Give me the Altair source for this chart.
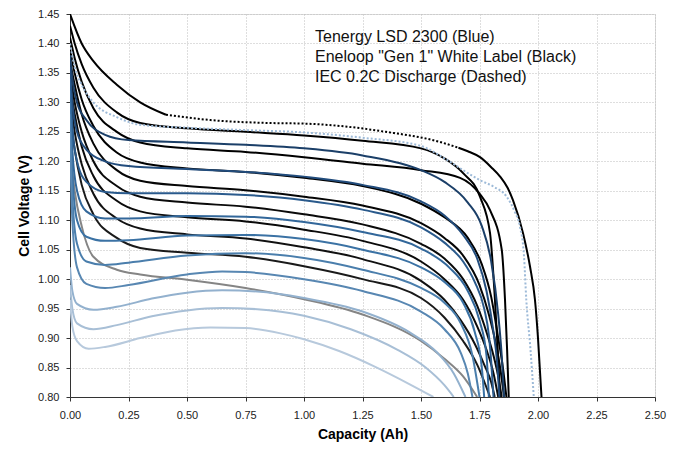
import altair as alt
import pandas as pd

# ---------------- data ----------------
x_ticks = [0.0, 0.25, 0.5, 0.75, 1.0, 1.25, 1.5, 1.75, 2.0, 2.25, 2.5]
y_ticks = [0.80, 0.85, 0.90, 0.95, 1.00, 1.05, 1.10, 1.15, 1.20, 1.25, 1.30, 1.35, 1.40, 1.45]

note_lines = ["Tenergy LSD 2300 (Blue)", "Eneloop \"Gen 1\" White Label (Black)", "IEC 0.2C Discharge (Dashed)"]

# Eneloop IEC 0.2C: solid-looking head, then dotted, solid-looking tail
ene_head_cap = [0, 0.05, 0.1, 0.2, 0.3, 0.41]
ene_head_v = [1.45, 1.40, 1.37, 1.33, 1.30, 1.279]
ene_iec_cap = [0.41, 0.6, 0.855, 1.0, 1.154, 1.35, 1.58, 1.66]
ene_iec_v = [1.279, 1.27, 1.265, 1.264, 1.26, 1.25, 1.233, 1.223]
ene_tail_cap = [1.66, 1.70, 1.752, 1.80, 1.838, 1.87, 1.893, 1.936, 1.966, 1.987, 2.0, 2.015]
ene_tail_v = [1.223, 1.217, 1.207, 1.19, 1.174, 1.155, 1.134, 1.078, 1.021, 0.965, 0.90, 0.80]
# Tenergy IEC 0.2C (dotted blue)
ten_iec_cap = [0, 0.02, 0.05, 0.1, 0.2, 0.3, 0.5, 0.75, 1.0, 1.25, 1.5, 1.6, 1.7, 1.752, 1.81, 1.866, 1.9, 1.923, 1.94, 1.95, 1.968, 1.982]
ten_iec_v = [1.40, 1.36, 1.33, 1.30, 1.275, 1.262, 1.257, 1.253, 1.249, 1.240, 1.226, 1.205, 1.18, 1.168, 1.157, 1.14, 1.115, 1.089, 1.04, 0.965, 0.88, 0.80]

# Eneloop curves (black)
b1_cap = [0, 0.02, 0.05, 0.1, 0.2, 0.3, 0.5, 0.75, 1.0, 1.25, 1.5, 1.6, 1.68, 1.752, 1.795, 1.816, 1.828, 1.838]
b1_v = [1.43, 1.40, 1.365, 1.325, 1.283, 1.265, 1.256, 1.250, 1.244, 1.235, 1.222, 1.205, 1.18, 1.14, 1.078, 0.965, 0.88, 0.80]
b2_cap = [0, 0.02, 0.05, 0.1, 0.2, 0.3, 0.5, 0.75, 1.0, 1.25, 1.5, 1.667, 1.75, 1.795, 1.845, 1.859, 1.868, 1.875]
b2_v = [1.41, 1.375, 1.335, 1.29, 1.25, 1.232, 1.222, 1.216, 1.207, 1.196, 1.185, 1.172, 1.145, 1.117, 1.05, 0.965, 0.88, 0.80]
b3_cap = [0, 0.02, 0.05, 0.1, 0.2, 0.3, 0.5, 0.75, 1.0, 1.25, 1.5, 1.6, 1.7, 1.76, 1.80, 1.83, 1.85, 1.865]
b3_v = [1.39, 1.35, 1.305, 1.26, 1.215, 1.198, 1.188, 1.182, 1.172, 1.158, 1.128, 1.105, 1.07, 1.025, 0.97, 0.90, 0.85, 0.80]
b4_cap = [0, 0.02, 0.05, 0.1, 0.2, 0.3, 0.5, 0.75, 1.0, 1.25, 1.5, 1.6, 1.68, 1.75, 1.79, 1.82, 1.84, 1.855]
b4_v = [1.37, 1.33, 1.28, 1.23, 1.185, 1.167, 1.158, 1.151, 1.14, 1.125, 1.095, 1.07, 1.04, 0.99, 0.94, 0.89, 0.845, 0.80]
b5_cap = [0, 0.02, 0.05, 0.1, 0.2, 0.3, 0.5, 0.75, 1.0, 1.25, 1.5, 1.6, 1.68, 1.74, 1.78, 1.81, 1.83, 1.845]
b5_v = [1.35, 1.30, 1.25, 1.20, 1.158, 1.14, 1.13, 1.123, 1.11, 1.093, 1.06, 1.035, 1.00, 0.955, 0.91, 0.87, 0.835, 0.80]
b6_cap = [0, 0.02, 0.05, 0.1, 0.2, 0.3, 0.5, 0.75, 1.0, 1.25, 1.5, 1.6, 1.68, 1.74, 1.78, 1.81, 1.83]
b6_v = [1.33, 1.28, 1.225, 1.175, 1.133, 1.115, 1.105, 1.098, 1.084, 1.065, 1.03, 1.00, 0.965, 0.92, 0.88, 0.84, 0.80]
b7_cap = [0, 0.02, 0.05, 0.1, 0.2, 0.3, 0.5, 0.75, 1.0, 1.25, 1.5, 1.6, 1.67, 1.73, 1.77, 1.80, 1.815]
b7_v = [1.31, 1.25, 1.195, 1.145, 1.103, 1.086, 1.076, 1.069, 1.054, 1.034, 0.997, 0.965, 0.93, 0.89, 0.855, 0.825, 0.80]
b8_cap = [0, 0.02, 0.05, 0.1, 0.2, 0.3, 0.5, 0.75, 1.0, 1.25, 1.5, 1.60, 1.68, 1.74, 1.795]
b8_v = [1.28, 1.22, 1.16, 1.11, 1.07, 1.053, 1.045, 1.038, 1.022, 1.00, 0.968, 0.935, 0.895, 0.855, 0.80]
b9_cap = [0, 0.02, 0.05, 0.1, 0.2, 0.3, 0.5, 0.75, 1.0, 1.25, 1.5, 1.6, 1.68, 1.74]
b9_v = [1.22, 1.15, 1.09, 1.038, 1.016, 1.008, 0.999, 0.985, 0.966, 0.94, 0.895, 0.865, 0.835, 0.80]

# Tenergy curves (blue)
t1_cap = [0, 0.01, 0.03, 0.07, 0.15, 0.25, 0.5, 0.75, 1.0, 1.25, 1.5, 1.6, 1.7, 1.76, 1.80, 1.83, 1.845, 1.855]
t1_v = [1.38, 1.34, 1.30, 1.27, 1.245, 1.236, 1.232, 1.228, 1.222, 1.21, 1.185, 1.165, 1.13, 1.09, 1.03, 0.94, 0.87, 0.80]
t2_cap = [0, 0.01, 0.03, 0.07, 0.15, 0.25, 0.5, 0.75, 1.0, 1.25, 1.5, 1.6, 1.68, 1.74, 1.78, 1.81, 1.825, 1.835]
t2_v = [1.36, 1.30, 1.25, 1.22, 1.20, 1.192, 1.187, 1.182, 1.174, 1.16, 1.132, 1.108, 1.075, 1.035, 0.98, 0.91, 0.86, 0.80]
t3_cap = [0, 0.01, 0.03, 0.07, 0.15, 0.25, 0.5, 0.75, 1.0, 1.25, 1.5, 1.6, 1.68, 1.73, 1.77, 1.79, 1.80, 1.81]
t3_v = [1.34, 1.26, 1.20, 1.165, 1.148, 1.146, 1.146, 1.143, 1.134, 1.118, 1.088, 1.062, 1.03, 0.995, 0.95, 0.905, 0.86, 0.80]
t4_cap = [0, 0.01, 0.03, 0.07, 0.15, 0.25, 0.5, 0.75, 1.0, 1.25, 1.5, 1.62, 1.70, 1.75, 1.78, 1.79]
t4_v = [1.32, 1.22, 1.15, 1.115, 1.103, 1.103, 1.107, 1.106, 1.097, 1.08, 1.052, 1.02, 0.98, 0.93, 0.87, 0.80]
t5_cap = [0, 0.01, 0.03, 0.07, 0.15, 0.25, 0.5, 0.75, 1.0, 1.25, 1.5, 1.6, 1.68, 1.73, 1.76, 1.77]
t5_v = [1.30, 1.18, 1.10, 1.072, 1.065, 1.066, 1.074, 1.075, 1.068, 1.05, 1.02, 0.995, 0.96, 0.91, 0.85, 0.80]
t6_cap = [0, 0.01, 0.03, 0.07, 0.15, 0.25, 0.5, 0.75, 1.0, 1.25, 1.5, 1.6, 1.67, 1.72, 1.75]
t6_v = [1.28, 1.14, 1.06, 1.03, 1.024, 1.028, 1.04, 1.044, 1.036, 1.016, 0.985, 0.96, 0.925, 0.87, 0.80]
t7_cap = [0, 0.01, 0.03, 0.07, 0.15, 0.25, 0.5, 0.65, 0.75, 1.0, 1.25, 1.5, 1.6, 1.67, 1.70, 1.72]
t7_v = [1.25, 1.10, 1.02, 0.992, 0.985, 0.99, 1.008, 1.013, 1.012, 1.0, 0.98, 0.945, 0.915, 0.875, 0.84, 0.80]
t8_cap = [0, 0.01, 0.03, 0.1, 0.2, 0.35, 0.5, 0.65, 0.8, 1.0, 1.25, 1.45, 1.57, 1.64, 1.69]
t8_v = [1.02, 0.98, 0.958, 0.948, 0.953, 0.967, 0.977, 0.981, 0.979, 0.968, 0.945, 0.91, 0.875, 0.84, 0.80]
t9_cap = [0, 0.01, 0.03, 0.1, 0.2, 0.35, 0.5, 0.65, 0.8, 1.0, 1.2, 1.4, 1.52, 1.6, 1.64]
t9_v = [0.99, 0.95, 0.925, 0.915, 0.922, 0.937, 0.947, 0.951, 0.949, 0.938, 0.915, 0.88, 0.85, 0.82, 0.80]
t10_cap = [0, 0.01, 0.03, 0.08, 0.15, 0.3, 0.45, 0.6, 0.75, 0.9, 1.0, 1.15, 1.3, 1.45, 1.553]
t10_v = [0.965, 0.92, 0.895, 0.882, 0.885, 0.90, 0.913, 0.918, 0.917, 0.908, 0.898, 0.878, 0.852, 0.822, 0.80]

# ---------------- build table ----------------
solid_series = [
    ("E0", ene_head_cap, ene_head_v, "#000000"),
    ("E1", b1_cap, b1_v, "#000000"),
    ("E2", b2_cap, b2_v, "#000000"),
    ("E3", b3_cap, b3_v, "#000000"),
    ("E4", b4_cap, b4_v, "#050505"),
    ("E5", b5_cap, b5_v, "#0a0a0a"),
    ("E6", b6_cap, b6_v, "#0a0a0a"),
    ("E7", b7_cap, b7_v, "#111111"),
    ("E8", b8_cap, b8_v, "#1a1a1a"),
    ("E9", b9_cap, b9_v, "#858585"),
    ("T1", t1_cap, t1_v, "#1b3f68"),
    ("T2", t2_cap, t2_v, "#224c7c"),
    ("T3", t3_cap, t3_v, "#2a5a8c"),
    ("T4", t4_cap, t4_v, "#32679a"),
    ("T5", t5_cap, t5_v, "#3b72a4"),
    ("T6", t6_cap, t6_v, "#4a7eac"),
    ("T7", t7_cap, t7_v, "#5887b2"),
    ("T8", t8_cap, t8_v, "#93b1ce"),
    ("T9", t9_cap, t9_v, "#a8bfd6"),
    ("T10", t10_cap, t10_v, "#b7c9dc"),
    ("E10", ene_tail_cap, ene_tail_v, "#000000"),
]
dotted_series = [
    ("Eneloop IEC", ene_iec_cap, ene_iec_v, "#000000"),
    ("Tenergy IEC", ten_iec_cap, ten_iec_v, "#9dbad8"),
]


def to_frame(series):
    rows = []
    for name, caps, vs, _ in series:
        for i, (c, v) in enumerate(zip(caps, vs)):
            rows.append({"series": name, "cap": c, "v": v, "idx": i})
    return pd.DataFrame(rows)


solid_df = to_frame(solid_series)
dotted_df = to_frame(dotted_series)

xscale = alt.Scale(domain=[0, 2.5], nice=False, zero=False)
yscale = alt.Scale(domain=[0.8, 1.45], nice=False, zero=False)

font = "Liberation Sans"

x_axis = alt.Axis(values=x_ticks, format=".2f", labelFontSize=11, labelFont=font, labelColor="#222",
                  labelFlush=False, labelOverlap=False,
                  titleFontSize=14, titleFont=font, titleFontWeight="bold", titleColor="#000",
                  titlePadding=7, grid=True, gridDash=[1, 2], gridColor="#bdbdbd",
                  domainColor="#333", tickColor="#333", tickSize=4, labelPadding=8)
y_axis = alt.Axis(values=y_ticks, format=".2f", labelFontSize=11, labelFont=font, labelColor="#222",
                  labelFlush=False, labelOverlap=False,
                  titleFontSize=14, titleFont=font, titleFontWeight="bold", titleColor="#000",
                  titlePadding=6, grid=True, gridDash=[1, 2], gridColor="#bdbdbd",
                  domainColor="#333", tickColor="#333", tickSize=4, labelPadding=7)

x_enc = alt.X("cap:Q", scale=xscale, title="Capacity (Ah)", axis=x_axis)
y_enc = alt.Y("v:Q", scale=yscale, title="Cell Voltage (V)", axis=y_axis)

solid = alt.Chart(solid_df).mark_line(interpolate="monotone", strokeWidth=2, clip=True).encode(
    x=x_enc,
    y=y_enc,
    detail="series:N",
    order="idx:Q",
    color=alt.Color("series:N", legend=None,
                    scale=alt.Scale(domain=[s[0] for s in solid_series], range=[s[3] for s in solid_series])),
)

dotted = alt.Chart(dotted_df).mark_line(interpolate="monotone", strokeWidth=2, strokeDash=[2, 2], clip=True).encode(
    x=x_enc,
    y=y_enc,
    detail="series:N",
    order="idx:Q",
    color=alt.Color("series:N", legend=None,
                    scale=alt.Scale(domain=[s[0] for s in dotted_series], range=[s[3] for s in dotted_series])),
)

note = alt.Chart(pd.DataFrame({"one": [0]})).mark_text(
    text=note_lines, align="left", baseline="alphabetic", font=font, fontSize=16, lineHeight=20, color="#111"
).encode(x=alt.value(245), y=alt.value(28))

chart = alt.layer(solid, dotted, note).resolve_scale(color="independent").properties(
    width=585, height=383,
    autosize=alt.AutoSizeParams(type="none"),
    padding={"left": 62, "top": 6, "right": 15, "bottom": 55},
).configure_view(stroke="#7a7a7a", strokeWidth=1).configure(background="white")

chart.save("out.html", embed_options={"renderer": "svg", "actions": False})
